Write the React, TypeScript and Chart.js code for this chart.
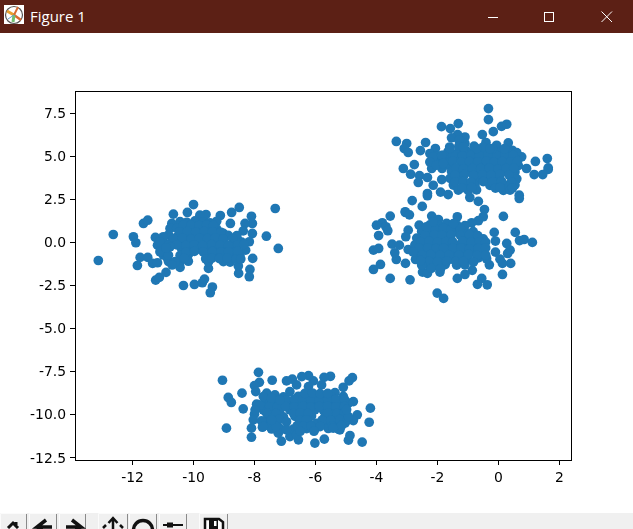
import React, { useEffect, useRef } from "react";
import { Chart, registerables } from "chart.js";

Chart.register(...registerables);

const xTickValues = [-12, -10, -8, -6, -4, -2, 0, 2];
const yTickValues = [-12.5, -10, -7.5, -5, -2.5, 0, 2.5, 5, 7.5];
const xLimits = [-13.885, 2.41];
const yLimits = [-12.62, 8.8];

const leftX = [-13.12,-12.63,-11.97,-11.89,-11.64,-11.5,-11.84,-11.75,-11.5,-11.34,-11.18,-11.25,-11.18,-11.24,-11.12,-10.9,-10.33,-9.97,-9.71,-9.64,-9.38,-9.45,-9.51,-10.0,-10.66,-10.2,-10.71,-10.77,-9.59,-9.79,-9.12,-8.75,-8.5,-8.79,-8.1,-8.07,-8.31,-8.37,-8.07,-7.32,-7.61,-7.22,-8.17,-8.56,-8.29,-8.06,-8.15,-8.17,-8.52,-8.53,-9.02,
  -10.44,-10.22,-9.95,-9.68,-9.46,-9.24,-10.55,-10.33,-10.06,-9.79,-9.51,-9.24,-10.82,-10.5,-10.22,-9.95,-9.68,-9.4,-9.18,-8.86,-8.58,-10.99,-10.71,-10.39,-10.11,-9.84,-9.57,-9.29,-9.02,-8.69,-8.42,-11.04,-10.39,-10.11,-9.84,-9.51,-9.24,-8.97,-8.64,-10.99,-10.44,-10.17,-9.57,-9.29,-9.02,-8.75,-8.48,-10.82,-10.44,-10.17,-9.51,-9.02,-8.8,-10.44,
  -10.33,-10.08,-9.82,-9.57,-9.35,-10.45,-10.2,-9.93,-9.65,-9.38,-9.1,-10.65,-10.36,-10.08,-9.81,-9.54,-9.29,-9.02,-8.72,-10.85,-10.55,-10.25,-9.97,-9.7,-9.4,-9.13,-8.85,-8.55,-10.98,-10.25,-9.97,-9.68,-9.38,-9.1,-8.85,-8.55,-10.85,-10.3,-9.6,-9.4,-9.15,-8.9,-8.6,
  -10.99,-11.1,-10.77,-10.82,-11.1,-10.6,-10.7,-10.9,-8.35,-8.45];
const leftY = [-1.04,0.47,0.34,-0.01,1.11,1.3,-1.33,-0.86,-0.86,-1.21,-1.17,0.3,-0.15,-2.18,-2.02,-1.73,-2.49,-2.43,-2.33,-2.12,-2.58,-2.91,-1.5,2.21,1.65,1.75,1.11,0.82,1.63,1.59,1.57,1.75,2.04,1.11,1.53,1.11,1.11,0.68,0.53,1.98,0.37,-0.34,0.05,0.18,-0.44,-0.92,-1.56,-1.98,-1.79,-1.36,0.53,
  1.22,1.18,1.26,1.2,1.15,1.24,0.84,0.8,0.86,0.78,0.85,0.8,0.45,0.4,0.47,0.41,0.44,0.39,0.46,0.42,0.4,0.07,0.03,0.06,0.02,0.08,0.04,0.07,0.02,0.05,0.03,-0.33,-0.36,-0.3,-0.37,-0.32,-0.35,-0.31,-0.36,-0.72,-0.75,-0.7,-0.74,-0.71,-0.76,-0.72,-0.73,-1.1,-1.13,-1.08,-1.12,-1.1,-1.13,-1.44,
  1.01,1.03,0.99,1.02,1.0,0.63,0.65,0.61,0.64,0.62,0.6,0.24,0.26,0.22,0.25,0.23,0.27,0.21,0.24,-0.15,-0.13,-0.17,-0.14,-0.16,-0.12,-0.15,-0.18,-0.14,-0.53,-0.55,-0.51,-0.54,-0.52,-0.56,-0.53,-0.5,-0.92,-0.9,-0.94,-0.91,-0.93,-0.9,-0.95,
  0.34,-0.53,-0.24,-0.73,0.05,-1.11,-1.3,-0.3,-0.1,-0.95];

const upperX = [-0.33,-0.33,-1.87,-1.58,-1.32,-0.17,0.1,0.27,-0.53,-3.35,-3.01,-3.09,-2.96,-2.56,-2.39,-2.07,-2.25,-2.76,-3.12,-2.88,-2.59,-2.63,-2.33,-2.33,-2.33,-1.86,-2.19,-2.14,-1.9,-1.65,-2.83,-2.5,-3.06,-0.46,-0.66,-0.94,0.68,0.68,1.6,1.63,1.63,1.45,1.17,1.21,0.92,0.76,0.32,0.45,-0.06,-0.41,-1.1,-1.34,-1.54,
  -1.65,-1.32,-1.04,-0.77,-0.5,-0.17,0.1,0.38,0.6,-1.97,-1.65,-1.37,-1.1,-0.83,-0.55,-0.28,-0.01,0.27,0.54,-1.65,-1.04,-0.72,-0.44,-0.17,0.1,0.38,0.65,-1.54,-1.26,-0.99,-0.66,-0.39,-0.12,0.21,0.54,-1.59,-1.26,-0.66,-0.33,-0.06,0.6,-1.48,-1.04,-0.77,-0.28,-0.12,0.27,0.54,-1.32,-0.99,-0.72,0.16,0.38,
  -1.8,-1.5,-1.18,-0.9,-0.63,-0.35,-0.05,0.22,0.48,-1.8,-1.5,-1.22,-0.95,-0.68,-0.4,-0.15,0.12,0.4,0.62,-1.85,-1.4,-1.15,-0.85,-0.58,-0.3,-0.02,0.25,0.5,-1.42,-1.12,-0.82,-0.52,-0.25,0.05,0.35,-1.42,-1.15,-0.9,-0.5,-0.2,0.1,0.42,-1.2,-0.88,-0.1,0.05,0.46,-1.1,-1.3,-1.6,-0.8,-0.5,-1.3,-0.2,-2.05,-2.1,
  -2.14,-2.25,-2.03,-1.86,-1.81,-1.59,-1.15,-0.72,-0.28,0.2];
const upperY = [7.78,7.14,6.73,6.62,6.91,6.44,6.75,6.87,6.27,5.87,5.75,5.46,5.23,5.34,5.81,5.46,5.17,4.53,4.3,3.97,3.89,3.49,3.78,2.85,2.72,3.66,4.3,3.33,2.93,2.79,2.44,2.1,1.79,1.92,2.39,2.62,2.56,2.75,4.88,4.34,4.25,3.95,3.95,4.71,4.3,4.98,5.79,5.36,5.65,5.81,6.13,6.27,6.08,
  5.29,5.25,5.3,5.26,5.28,5.24,5.3,5.26,5.22,4.9,4.86,4.91,4.87,4.89,4.85,4.9,4.86,4.92,4.87,4.5,4.47,4.52,4.48,4.5,4.46,4.51,4.47,4.12,4.09,4.13,4.1,4.12,4.08,4.13,4.1,3.73,3.7,3.74,3.71,3.73,3.7,3.34,3.31,3.35,3.32,3.34,3.31,3.35,3.05,3.02,3.06,3.03,3.05,
  5.07,5.09,5.05,5.08,5.06,5.1,5.05,5.08,5.06,4.69,4.71,4.67,4.7,4.68,4.72,4.66,4.7,4.68,4.71,4.3,4.32,4.28,4.31,4.29,4.33,4.27,4.3,4.32,3.92,3.94,3.9,3.93,3.91,3.95,3.92,3.53,3.55,3.51,3.54,3.52,3.56,3.53,3.18,3.2,3.16,3.19,3.17,5.75,5.95,5.55,5.6,5.55,5.6,5.45,5.0,4.65,
  4.98,4.68,4.49,5.07,4.59,5.46,5.55,5.46,5.46,5.45];

const middleX = [-3.55,-3.05,-2.92,-3.81,-4.0,-3.69,-3.63,-3.93,-2.96,-3.04,-2.6,-2.19,-1.97,-1.35,-1.7,-0.5,-0.66,-0.88,0.16,-0.14,0.55,-0.1,0.69,0.84,1.11,0.27,0.38,0.3,-0.1,0.05,0.4,0.13,-0.3,0.13,-0.86,-1.1,-1.35,-0.55,-0.69,-0.37,-2.01,-1.8,-2.9,-3.55,-4.1,-3.87,-3.05,-3.35,-3.4,-4.1,-3.93,-3.49,-3.25,-2.96,-2.72,-2.49,-2.33,-1.92,
  -2.25,-1.97,-1.37,-1.1,-2.52,-2.25,-1.97,-1.7,-1.43,-1.1,-0.83,-2.68,-2.41,-2.14,-1.86,-1.59,-1.04,-0.77,-0.5,-2.74,-2.46,-2.19,-1.92,-1.64,-1.37,-1.1,-0.83,-0.5,-2.63,-2.36,-2.08,-1.75,-1.48,-1.1,-0.83,-0.55,-2.41,-2.14,-1.86,-1.54,-1.26,-0.99,-0.66,-0.39,-2.3,-2.03,-1.75,-1.37,-1.1,
  -2.1,-1.8,-1.55,-1.25,-2.4,-2.1,-1.85,-1.55,-1.25,-0.95,-0.68,-2.55,-2.28,-2.0,-1.72,-1.5,-1.18,-0.9,-0.62,-0.42,-2.6,-2.32,-2.05,-1.8,-1.5,-1.22,-0.95,-0.66,-0.42,-2.5,-2.22,-1.92,-1.62,-1.3,-0.98,-0.7,-0.42,-2.28,-2.0,-1.7,-1.4,-1.15,-0.82,-2.2,-1.9,
  -2.36,-2.14,-2.52,-1.48,-2.8,-2.55];
const middleY = [1.54,1.75,1.61,1.15,1.01,0.92,0.69,0.41,0.72,0.34,1.01,1.54,1.34,1.5,1.11,1.5,1.27,1.15,1.52,0.59,0.59,0.09,0.12,0.18,0.01,-0.05,-0.44,-0.63,-0.55,-0.96,-1.21,-1.21,-1.29,-1.85,-1.61,-1.85,-2.08,-2.08,-2.42,-2.45,-2.93,-3.24,-2.16,-2.08,-1.56,-1.27,-1.21,-0.98,-0.59,-0.44,-0.34,-0.09,-0.15,-0.4,-0.98,-1.71,-1.79,-1.71,
  1.03,0.99,1.02,0.98,0.65,0.61,0.64,0.6,0.66,0.62,0.64,0.26,0.22,0.25,0.21,0.27,0.23,0.26,0.22,-0.13,-0.17,-0.14,-0.18,-0.12,-0.16,-0.13,-0.17,-0.14,-0.52,-0.55,-0.51,-0.56,-0.52,-0.55,-0.51,-0.54,-0.9,-0.94,-0.91,-0.95,-0.9,-0.93,-0.89,-0.94,-1.29,-1.32,-1.28,-1.31,-1.29,
  0.82,0.84,0.8,0.83,0.43,0.45,0.41,0.44,0.42,0.46,0.4,0.05,0.07,0.03,0.06,0.04,0.08,0.02,0.05,0.03,-0.33,-0.31,-0.35,-0.32,-0.34,-0.3,-0.36,-0.33,-0.31,-0.72,-0.7,-0.74,-0.71,-0.73,-0.69,-0.75,-0.72,-1.1,-1.12,-1.08,-1.11,-1.09,-1.13,-1.5,-1.52,
  0.92,1.2,-1.3,1.1,-0.55,-1.05];

const lowerX = [-9.05,-7.87,-7.42,-7.84,-8.0,-8.41,-8.86,-8.76,-8.37,-7.96,-7.93,-8.92,-8.0,-8.04,-8.1,-8.1,-7.74,-7.12,-7.22,-6.56,-6.84,-6.02,-5.71,-4.92,-4.87,-4.47,-4.2,-4.24,-4.63,-4.76,-5.2,-4.76,-5.09,-5.36,-4.9,-4.79,-5.51,-5.72,-5.8,-6.07,-6.23,-6.45,-6.76,-6.95,-6.62,-7.6,-7.33,-6.84,-6.23,
  -7.05,-6.56,-6.29,-6.02,-5.74,-5.47,-5.09,-7.66,-7.38,-7.11,-6.84,-6.56,-6.29,-6.02,-5.74,-5.47,-5.2,-4.92,-7.71,-7.44,-7.17,-6.84,-6.56,-6.29,-6.02,-5.74,-5.47,-5.2,-7.55,-7.33,-7.05,-6.67,-6.4,-6.13,-5.69,-5.42,-5.14,-7.55,-7.27,-6.51,-6.23,-5.96,-5.63,-5.31,-5.03,-7.44,-7.17,-6.73,-6.29,-6.02,-5.58,-5.25,-6.62,
  -7.2,-6.95,-6.7,-6.42,-6.15,-5.88,-5.6,-5.33,-5.05,-7.75,-7.5,-7.25,-6.98,-6.7,-6.42,-6.15,-5.88,-5.6,-5.33,-5.05,-7.6,-7.3,-6.72,-6.5,-6.25,-5.6,-5.3,-5.05,-7.45,-7.2,-6.5,-6.3,-5.78,-5.5,-5.2,-4.95,-7.5,-7.3,-6.6,-6.4,-6.15,-5.85,-5.45,-5.15,-6.35,-6.1,-5.85,-5.6,
  -7.82,-7.77,-7.98,-7.71,-7.44,-7.17,-7.44,-7.71,-6.95,-6.95,-5.42,-4.92,-4.98,-6.5,-6.05];
const lowerY = [-7.99,-7.53,-7.99,-8.11,-8.3,-8.74,-8.99,-9.28,-9.65,-8.65,-9.38,-10.77,-9.96,-10.29,-10.77,-11.3,-10.72,-11.53,-11.06,-11.45,-11.26,-11.64,-11.41,-11.47,-11.2,-11.58,-9.61,-10.43,-10.0,-10.33,-10.87,-9.23,-8.4,-8.71,-8.03,-7.84,-7.76,-7.82,-8.26,-8.03,-7.72,-7.78,-7.93,-8.03,-8.26,-8.74,-8.84,-8.65,-8.36,
  -8.96,-8.92,-8.95,-8.91,-8.94,-8.97,-8.93,-9.34,-9.3,-9.33,-9.29,-9.32,-9.35,-9.31,-9.33,-9.3,-9.34,-9.31,-9.72,-9.69,-9.73,-9.7,-9.72,-9.68,-9.71,-9.73,-9.69,-9.72,-10.11,-10.08,-10.12,-10.09,-10.11,-10.07,-10.1,-10.12,-10.08,-10.49,-10.46,-10.5,-10.47,-10.49,-10.46,-10.5,-10.47,-10.82,-10.79,-10.83,-10.8,-10.82,-10.79,-10.83,-11.16,
  -9.12,-9.14,-9.1,-9.13,-9.11,-9.15,-9.09,-9.12,-9.1,-9.52,-9.5,-9.54,-9.51,-9.53,-9.49,-9.55,-9.52,-9.5,-9.53,-9.51,-9.9,-9.92,-9.91,-9.89,-9.93,-9.9,-9.92,-9.88,-10.3,-10.28,-10.31,-10.29,-10.3,-10.32,-10.28,-10.3,-10.65,-10.67,-10.63,-10.66,-10.64,-10.68,-10.65,-10.63,-8.75,-8.73,-8.77,-8.75,
  -9.42,-10.35,-9.71,-8.94,-9.03,-9.13,-10.29,-10.67,-10.4,-10.87,-10.77,-10.1,-9.7,-10.95,-10.95];

const scatterColor = "#1f77b4";
const allX = [...leftX, ...upperX, ...middleX, ...lowerX];
const allY = [...leftY, ...upperY, ...middleY, ...lowerY];

const frame = {
  id: "frame",
  afterDraw(chart: any) {
    const { ctx, chartArea: a } = chart;
    ctx.save();
    ctx.strokeStyle = "#000";
    ctx.lineWidth = 1;
    ctx.strokeRect(Math.round(a.left) + 0.5, Math.round(a.top) + 0.5, Math.round(a.right - a.left) - 1, Math.round(a.bottom - a.top));
    ctx.restore();
  },
};

const axisFont = { family: "'DejaVu Sans'", size: 13.9 };

export default function App() {
  const ref = useRef<HTMLCanvasElement>(null);
  useEffect(() => {
    const chart = new Chart(ref.current as HTMLCanvasElement, {
      type: "scatter",
      data: {
        datasets: [
          {
            data: allX.map((x, i) => ({ x, y: allY[i] })),
            backgroundColor: scatterColor,
            borderColor: scatterColor,
            borderWidth: 0,
            pointRadius: 4.85,
          },
        ],
      },
      options: {
        animation: false,
        responsive: false,
        events: [],
        layout: { padding: { left: 0, top: 91, right: 61, bottom: 0 } },
        plugins: { legend: { display: false }, tooltip: { enabled: false } },
        scales: {
          x: {
            type: "linear",
            min: xLimits[0],
            max: xLimits[1],
            afterBuildTicks: (s: any) => { s.ticks = xTickValues.map((value) => ({ value })); },
            afterFit: (s: any) => { s.height = 69; },
            grid: { drawOnChartArea: false, tickLength: 5, tickColor: "#000", tickWidth: 1 },
            border: { display: false },
            ticks: {
              color: "#000", font: axisFont, padding: 5, maxRotation: 0, autoSkip: false,
              callback: (v: any) => String(v),
            },
          },
          y: {
            type: "linear",
            min: yLimits[0],
            max: yLimits[1],
            afterBuildTicks: (s: any) => { s.ticks = yTickValues.map((value) => ({ value })); },
            afterFit: (s: any) => { s.width = 75; },
            grid: { drawOnChartArea: false, tickLength: 5, tickColor: "#000", tickWidth: 1 },
            border: { display: false },
            ticks: {
              color: "#000", font: axisFont, padding: 4, autoSkip: false, labelOffset: 1,
              callback: (v: any) => Number(v).toFixed(1),
            },
          },
        },
      },
      plugins: [frame],
    } as any);
    return () => chart.destroy();
  }, []);

  const buttons = [[0, 27], [29, 57], [59, 86], [98, 128], [129, 157], [159, 187], [199, 228]];
  return (
    <div style={{ position: "fixed", left: 0, top: 0, width: 633, height: 529, background: "#fff", overflow: "hidden" }}>
      <canvas ref={ref} width={633} height={529} style={{ position: "absolute", left: 0, top: 0, width: 633, height: 529 }} />
      <div style={{ position: "absolute", left: 0, top: 0, width: 633, height: 33, background: "#5c2015" }}>
        <svg width="633" height="33" style={{ position: "absolute", left: 0, top: 0 }}>
          <rect x="4" y="5" width="20" height="19" fill="#fff" />
          <circle cx="14" cy="15" r="8.5" fill="#fff" stroke="#555" strokeWidth="1.2" />
          <path d="M14 15 L7 11" stroke="#e8a030" strokeWidth="3" />
          <path d="M14 15 L18 7" stroke="#d96b30" strokeWidth="2" />
          <path d="M14 15 L21 20" stroke="#d96b30" strokeWidth="2.5" />
          <path d="M14 15 L13 22" stroke="#70c070" strokeWidth="3" />
          <path d="M14 15 L8 19" stroke="#60a0d0" strokeWidth="1" />
          <path d="M488 17.5 H498" stroke="#fff" strokeWidth="1" />
          <rect x="544.5" y="12.5" width="9" height="9" fill="none" stroke="#fff" strokeWidth="1" />
          <path d="M601.5 11.5 L612 22 M612 11.5 L601.5 22" stroke="#fff" strokeWidth="1" />
        </svg>
        <div style={{ position: "absolute", left: 30, top: 6, font: "15px 'Open Sans'", color: "#fff", lineHeight: "20px", whiteSpace: "nowrap" }}>Figure 1</div>
      </div>
      <div style={{ position: "absolute", left: 0, top: 513, width: 633, height: 16, background: "#f0f0f0" }}>
        <svg width="633" height="16" style={{ position: "absolute", left: 0, top: 0 }}>
          {buttons.map(([a, b], i) => (
            <g key={i}>
              <path d={`M${a + 0.5} 16 V0.5 H${b - 0.5}`} fill="none" stroke="#fbfbfb" />
              <path d={`M${b - 0.5} 1 V16`} fill="none" stroke="#8a8a8a" />
            </g>
          ))}
          <path d="M8 15 L13 10 L18 15 M16 9 V12" fill="none" stroke="#111" strokeWidth="3" />
          <path d="M46 7 L37 14 L52 14 M37 14 L46 20" fill="none" stroke="#111" strokeWidth="3.5" />
          <path d="M72 7 L81 14 L66 14 M81 14 L72 20" fill="none" stroke="#111" strokeWidth="3.5" />
          <path d="M113 16 V6 M108.5 10 L113 5 L117.5 10 M103 15 L106 12 M123 15 L120 12" fill="none" stroke="#111" strokeWidth="2.5" />
          <circle cx="143" cy="17" r="9.5" fill="none" stroke="#111" strokeWidth="3.5" />
          <path d="M163 12 H183" stroke="#111" strokeWidth="2" />
          <rect x="167" y="9.5" width="6" height="5" fill="#111" />
          <path d="M205 16 V6 H219 L223 9 V16" fill="#fff" stroke="#111" strokeWidth="2.5" />
          <rect x="209" y="7" width="9" height="9" fill="#111" />
          <rect x="214" y="8" width="2.5" height="5" fill="#fff" />
        </svg>
      </div>
    </div>
  );
}
